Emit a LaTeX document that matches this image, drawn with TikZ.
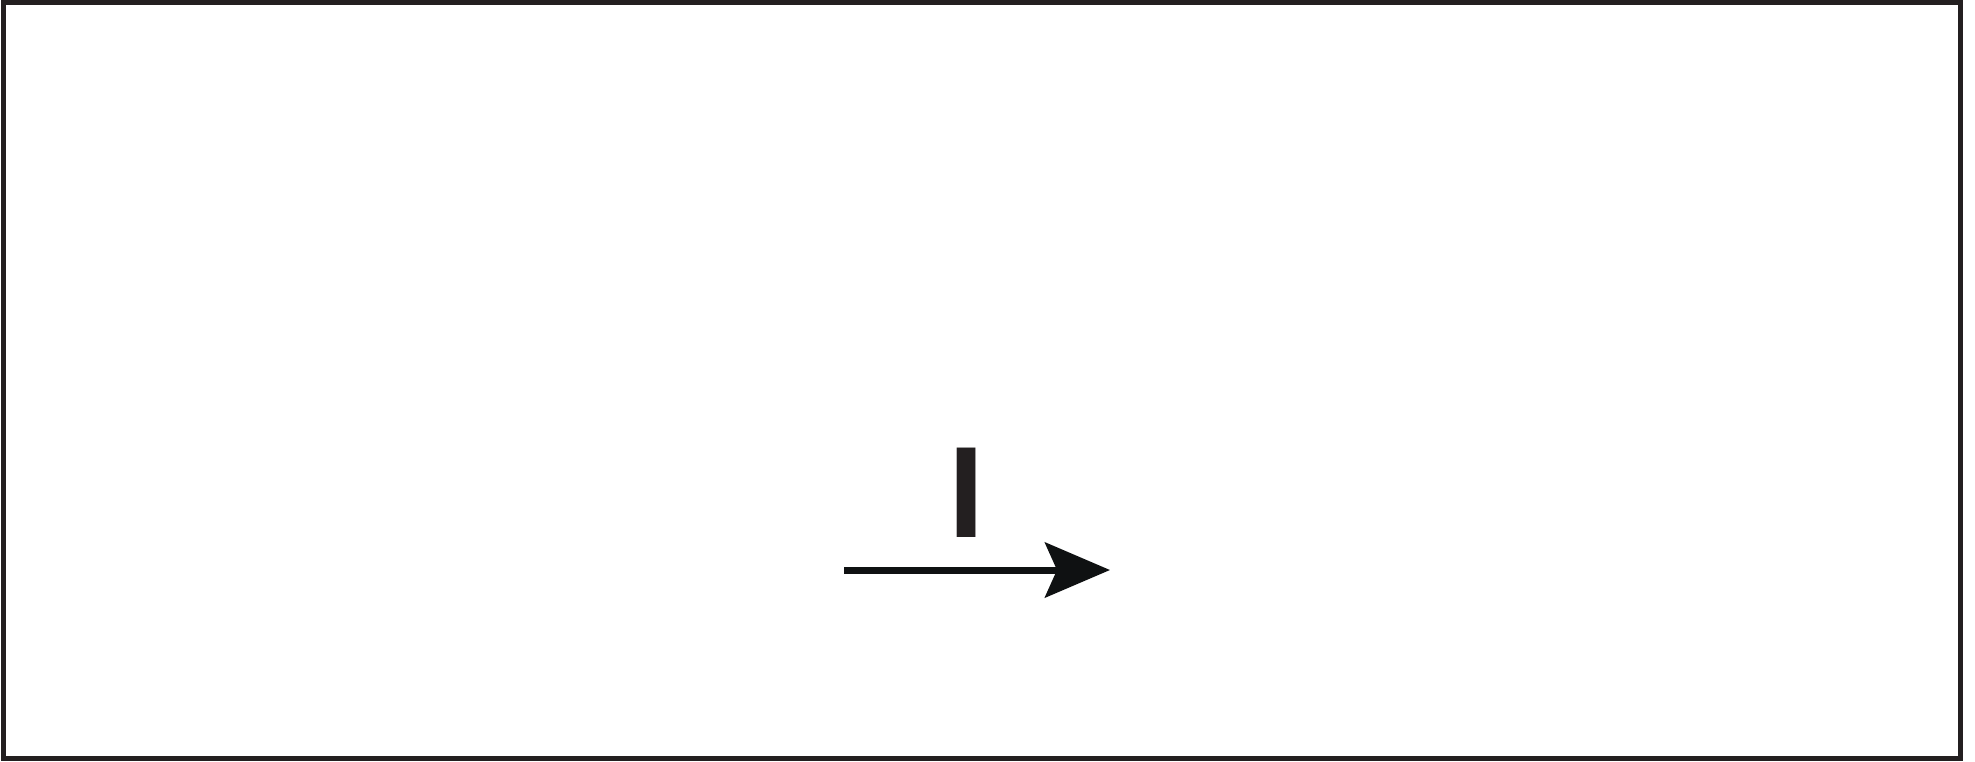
\documentclass[tikz,border=0pt]{standalone}
\usepackage{fontspec}
\setmainfont{Liberation Sans}
\usetikzlibrary{arrows.meta,positioning}
\definecolor{inkgray}{HTML}{231F20}
\definecolor{inkblack}{HTML}{0F1112}

\begin{document}
\begin{tikzpicture}[
      x=1pt,y=-1pt,
      frame/.style={draw=inkgray,line width=5pt},
      wire/.style={draw=inkblack,line width=7pt},
      symbol/.style={inner sep=0pt,text=inkgray,
                     font=\bfseries\fontsize{130}{130}\selectfont},
      >={Stealth[length=65pt,width=55pt,inset=12pt]}]
    \useasboundingbox (0,0) rectangle (1975,761);
    \draw[frame] (3.5,2.5) rectangle (1960.5,758.5);
    % current arrow
    \coordinate (tail) at (844,570);
    \coordinate (head) at (1110,570);
    \draw[wire,->] (tail) -- (head);
    \node[symbol] (cur) at (967,493) {I};
  \end{tikzpicture}
\end{document}
